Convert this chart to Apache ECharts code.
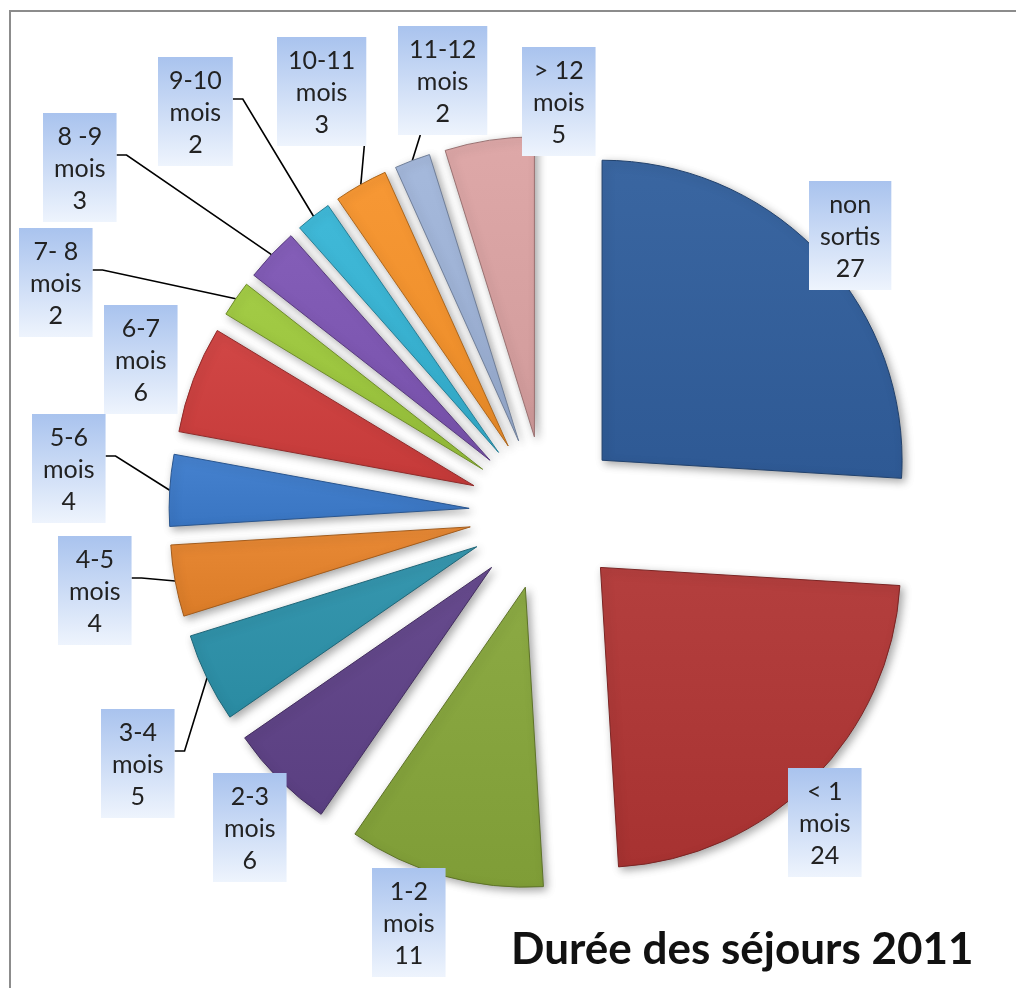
<!DOCTYPE html>
<html>
<head>
<meta charset="utf-8">
<script src="https://cdn.jsdelivr.net/npm/echarts@6/dist/echarts.min.js"></script>
<style>
html, body {margin: 0; padding: 0; background: #fff;}
#chart {width: 1016px; height: 988px;}
</style>
</head>
<body>
<div id="chart"></div>
<script>
var categories = ['non sortis', '< 1 mois', '1-2 mois', '2-3 mois', '3-4 mois', '4-5 mois', '5-6 mois',
    '6-7 mois', '7- 8 mois', '8 -9 mois', '9-10 mois', '10-11 mois', '11-12 mois', '> 12 mois'];
var values = [27, 24, 11, 6, 5, 4, 4, 6, 2, 3, 2, 3, 2, 5];
var colors = ['#305e9c', '#b03534', '#86a53a', '#5f4288', '#2c92ab', '#e7832a', '#3c7bcc',
    '#cf3d3c', '#9ec93c', '#7d55b4', '#36b5d6', '#f7932a', '#a0b5da', '#dca3a3'];
// where the leader line leaves the label box: r = right side, b = bottom, '' = no line
var lineFrom = ['', '', '', '', 'r', 'r', 'r', '', 'r', 'r', 'r', 'b', 'b', ''];

// top-left of each label box
var labelPos = [[809, 181], [788, 768], [372, 868], [213, 773], [101, 709], [58, 536], [32, 414],
    [104, 305], [19, 228], [43, 113], [158, 57], [277, 37], [398, 26], [522, 47]];

var CX = 546, CY = 513, R = 300, EXPLODE = 77;

var boxBg = new echarts.graphic.LinearGradient(0, 0, 0, 1, [
    {offset: 0, color: '#a9c3ee'},
    {offset: 1, color: '#eef4fd'}
]);

// k > 0 mixes toward white, k < 0 toward black
function shade(hex, k) {
    var n = parseInt(hex.slice(1), 16);
    var rgb = [(n >> 16) & 255, (n >> 8) & 255, n & 255].map(function (c) {
        return Math.round(k > 0 ? c + (255 - c) * k : c * (1 + k));
    });
    return 'rgb(' + rgb.join(',') + ')';
}

function labelfmt(params) {
    return params.name.replace(/ (mois|sortis)$/, '\n$1') + '\n' + params.value;
}

var total = values.reduce(function (a, b) {return a + b;}, 0);
var mids = [], centers = [];

// one pie per slice, only that slice visible, centre pushed out along its bisector
var series = [];
var acc = 0;
values.forEach(function (v, k) {
    var mid = (acc + v / 2) / total * 2 * Math.PI;
    acc += v;
    var c = [CX + EXPLODE * Math.sin(mid), CY - EXPLODE * Math.cos(mid)];
    mids.push(mid);
    centers.push(c);
    var data = categories.map(function (name, i) {
        var on = i === k;
        return {
            name: name,
            value: values[i],
            itemStyle: on ? {
                color: new echarts.graphic.LinearGradient(0, 0, 0, 1, [
                    {offset: 0, color: shade(colors[i], 0.05)},
                    {offset: 1, color: shade(colors[i], -0.05)}
                ]),
                borderColor: shade(colors[i], -0.3),
                borderWidth: 1
            } : {color: 'rgba(0,0,0,0)'},
            label: {show: on},
            labelLine: {show: on && lineFrom[i] !== ''}
        };
    });
    series.push({
        type: 'pie',
        center: c,
        radius: R,
        startAngle: 90,
        silent: true,
        avoidLabelOverlap: false,
        itemStyle: {
            shadowBlur: 8,
            shadowColor: 'rgba(0,0,0,0.35)',
            shadowOffsetX: 3,
            shadowOffsetY: 3
        },
        label: {
            formatter: labelfmt,
            fontFamily: 'Lato',
            fontSize: 25,
            lineHeight: 32,
            color: '#222',
            align: 'center',
            backgroundColor: boxBg,
            padding: [8, 11, 5, 11]
        },
        labelLine: {
            lineStyle: {color: '#000', width: 1.6}
        },
        labelLayout: function (params) {
            var i = params.dataIndex;
            var p = labelPos[i];
            var w = params.labelRect.width, h = params.labelRect.height;
            var out = {x: p[0] + w / 2, y: p[1], align: 'center', verticalAlign: 'top'};
            if (lineFrom[i]) {
                // end on the middle of the slice's outer arc
                var end = [centers[i][0] + R * Math.sin(mids[i]), centers[i][1] - R * Math.cos(mids[i])];
                if (lineFrom[i] === 'r') {
                    var sy = p[1] + 42;
                    out.labelLinePoints = [[p[0] + w, sy], [p[0] + w + 10, sy], end];
                } else {
                    var sx = Math.min(Math.max(end[0] + 8, p[0] + 6), p[0] + w - 2);
                    out.labelLinePoints = [[sx, p[1] + h], [sx, p[1] + h], end];
                }
            }
            return out;
        },
        data: data
    });
});

var chart = echarts.init(document.getElementById('chart'));
var opt = {
    animation: false,
    backgroundColor: '#fff',
    title: {
        text: 'Durée des séjours 2011',
        left: 506,
        top: 923,
        textStyle: {fontFamily: 'Lato', fontWeight: 'bold', fontSize: 44, color: '#111'}
    },
    graphic: [{
        type: 'rect',
        shape: {x: 10, y: 11, width: 1100, height: 1100},
        style: {fill: 'none', stroke: '#8c8c8c', lineWidth: 2},
        z: -10
    }],
    series: series
};
chart.setOption(opt);
</script>
</body>
</html>
